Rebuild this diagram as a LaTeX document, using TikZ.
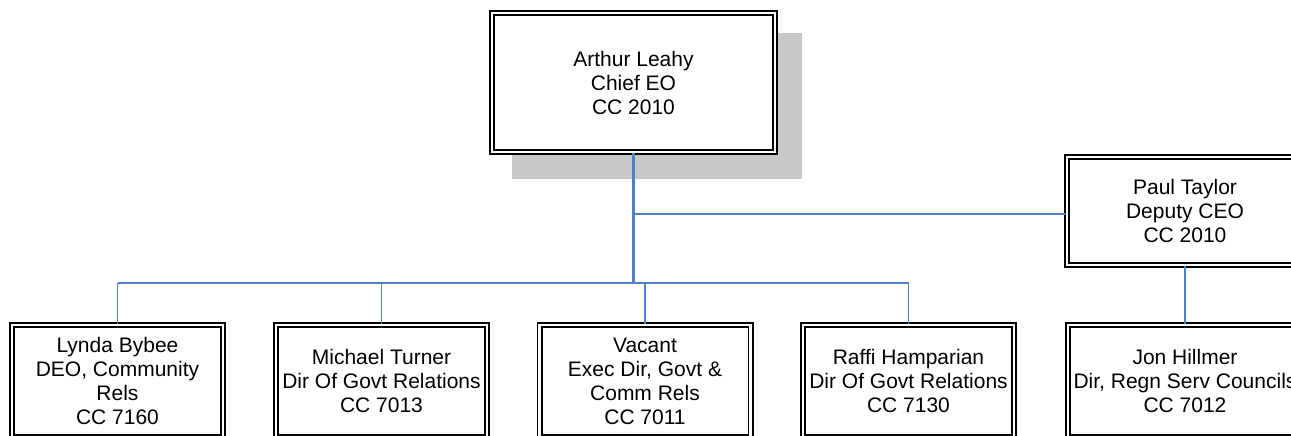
\documentclass[tikz,border=0pt]{standalone}
\usepackage{fontspec}
\setmainfont{Liberation Sans}
\definecolor{linkblue}{HTML}{4F81BD}
\definecolor{shadowgray}{HTML}{C8C8C8}
\begin{document}
\begin{tikzpicture}[x=1pt,y=-1pt,
  person/.style={draw=black, double=white, double distance=2.2pt, line width=1.9pt,
    fill=white, align=center, inner sep=0pt, font=\fontsize{21}{24}\selectfont},
  topbox/.style={person, minimum width=283pt, minimum height=139pt},
  depbox/.style={person, minimum width=236pt, minimum height=108pt},
  lowbox/.style={person, minimum width=211pt, minimum height=112pt},
  jonbox/.style={person, minimum width=234pt, minimum height=112pt},
  link/.style={draw=linkblue, line width=1.5pt},
  trunk/.style={draw=linkblue, line width=2.5pt}]
\path[use as bounding box] (0,0) rectangle (1291,436);
\clip (0,0) rectangle (1291,436);
\fill[white] (0,0) rectangle (1291,436);
% shadow of top box
\fill[shadowgray] (512,33) rectangle (802,179);
% boxes
\node[topbox] (ceo) at (633.5,82.5) {Arthur Leahy\\Chief EO\\CC 2010};
\node[depbox] (dep) at (1185,211) {Paul Taylor\\Deputy CEO\\CC 2010};
\node[lowbox] (lynda) at (117.5,381) {Lynda Bybee\\DEO, Community\\Rels\\CC 7160};
\node[lowbox] (michael) at (381.5,381) {Michael Turner\\Dir Of Govt Relations\\CC 7013};
\node[lowbox] (vacant) at (645,381) {Vacant\\Exec Dir, Govt \&\\Comm Rels\\CC 7011};
\node[lowbox] (raffi) at (908.5,381) {Raffi Hamparian\\Dir Of Govt Relations\\CC 7130};
\node[jonbox] (jon) at (1185,381) {Jon Hillmer\\Dir, Regn Serv Councils\\CC 7012};
% junctions
\coordinate (j1) at (633.5,283);
\coordinate (j2) at (633.5,214);
% connectors
\draw[link] (j2) -- (j2 -| dep.west);
\draw[link] (lynda.north |- j1) -- (raffi.north |- j1);
\draw[link] (lynda.north) -- (lynda.north |- j1);
\draw[link] (michael.north) -- (michael.north |- j1);
\draw[link] (vacant.north) -- (vacant.north |- j1);
\draw[link] (raffi.north) -- (raffi.north |- j1);
\draw[link] (dep.south) -- (jon.north);
\draw[trunk] (ceo.south) -- (j1);
\end{tikzpicture}
\end{document}
